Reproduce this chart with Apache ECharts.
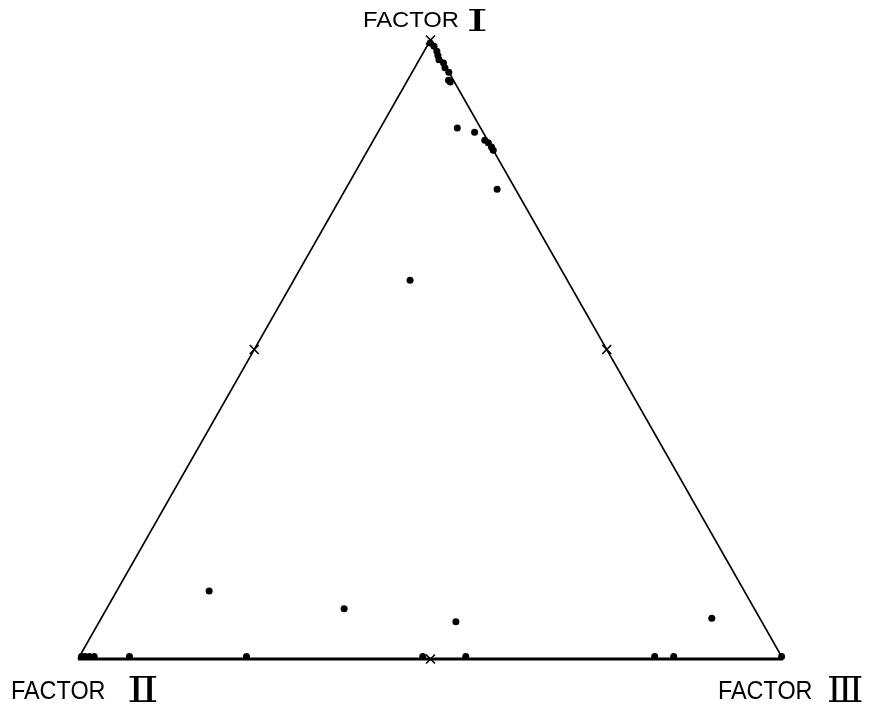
<!DOCTYPE html>
<html>
<head>
<meta charset="utf-8">
<script src="https://cdn.jsdelivr.net/npm/echarts@6/dist/echarts.min.js"></script>
<style>html,body{margin:0;padding:0;background:#fff}#c{width:876px;height:716px}</style>
</head>
<body>
<div id="c"></div>
<script>
// Ternary composition of each sample: share of Factor I, II, III
const factorI   = [0.995,0.990,0.982,0.975,0.968,0.963,0.955,0.948,0.935,0.932,
                   0.858,0.851,0.838,0.834,0.827,0.822,0.759,0.612,
                   0.110,0.081,0.060,0.066,
                   0.004,0.004,0.004,0.004,0.004,0.004,0.004,0.004,0.004,0.004,0.004];
const factorII  = [0.003,0.000,0.000,0.002,0.004,0.000,0.002,0.000,0.007,0.006,
                   0.033,0.012,0.004,0.001,0.000,0.000,0.026,0.223,
                   0.759,0.582,0.434,0.068,
                   0.993,0.988,0.982,0.975,0.925,0.759,0.509,0.448,0.180,0.153,0.000];
const factorIII = [0.002,0.010,0.018,0.023,0.028,0.037,0.043,0.052,0.058,0.062,
                   0.109,0.137,0.158,0.165,0.173,0.178,0.215,0.165,
                   0.131,0.337,0.506,0.866,
                   0.003,0.008,0.014,0.021,0.071,0.237,0.487,0.548,0.816,0.843,0.996];
// Half-way marks on each side and the apex mark
const markI   = [0.5, 0.5, 0.0, 1.0];
const markII  = [0.5, 0.0, 0.5, 0.0];
const markIII = [0.0, 0.5, 0.5, 0.0];
const axisWord = 'FACTOR';
const numerals = ['Ⅰ', 'Ⅱ', 'Ⅲ'];

function toXY(a, b, c) { const s = a + b + c; return [c / s + a / (2 * s), a / s]; }

const pts = factorI.map((a, i) => toXY(a, factorII[i], factorIII[i]));
const marks = markI.map((a, i) => toXY(a, markII[i], markIII[i]));
const vI = toXY(1, 0, 0), vII = toXY(0, 1, 0), vIII = toXY(0, 0, 1);

function word(x, y, size, sx) {
  return { type: 'text', x: x, y: y, scaleX: sx, silent: true,
    style: { text: axisWord, font: size + 'px "Liberation Sans"', fill: '#000',
             align: 'left', verticalAlign: 'top' } };
}
function numeral(t, x, y, size, sx) {
  return { type: 'text', x: x, y: y, scaleX: sx, silent: true,
    style: { text: t, font: size + 'px "DejaVu Serif"', fill: '#000',
             align: 'left', verticalAlign: 'top' } };
}

const chart = echarts.init(document.getElementById('c'));
const crossPath = 'path://M0,0L10,10M10,0L0,10';
chart.setOption({
  animation: false,
  backgroundColor: '#fff',
  grid: { left: 78, right: 93, top: 40, bottom: 57 },
  xAxis: { type: 'value', min: 0, max: 1, show: false },
  yAxis: { type: 'value', min: 0, max: 1, show: false },
  series: [
    { type: 'line', data: [vII, vI, vIII], symbol: 'none', clip: false,
      lineStyle: { color: '#000', width: 1.6 } },
    { type: 'line', data: [vII, vIII], symbol: 'none', clip: false,
      lineStyle: { color: '#000', width: 3 } },
    { type: 'scatter', data: pts, symbol: 'circle', symbolSize: 7, clip: false,
      itemStyle: { color: '#000', opacity: 1 } },
    { type: 'scatter', data: marks, symbol: crossPath, symbolSize: 9, clip: false,
      itemStyle: { color: 'none', borderColor: '#000', borderWidth: 1.6, opacity: 1 } }
  ],
  graphic: [
    word(363, 10, 22, 1.08),
    numeral(numerals[0], 466, 8, 30, 1.9),
    word(11, 679, 26, 0.9),
    numeral(numerals[1], 127, 675, 36, 1.3),
    word(718, 679, 26, 0.9),
    numeral(numerals[2], 827, 675, 36, 1.05)
  ]
});
</script>
</body>
</html>
